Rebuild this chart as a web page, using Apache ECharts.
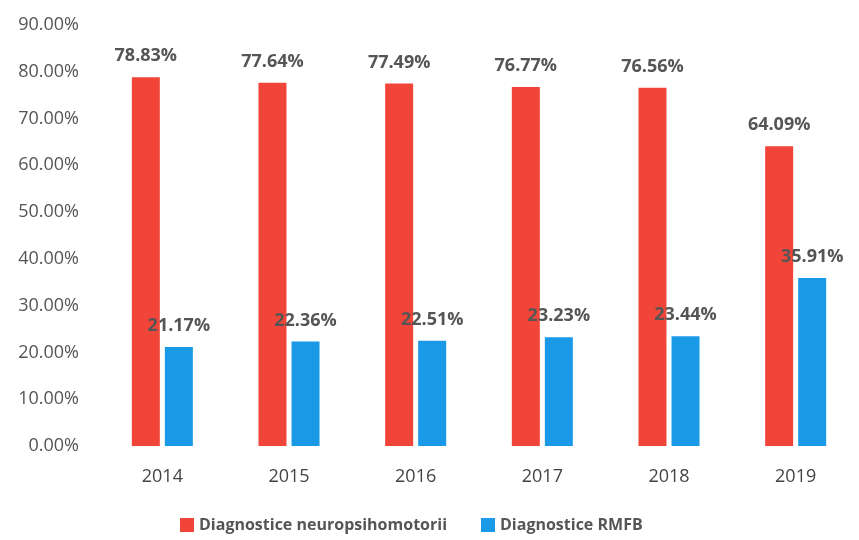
<!DOCTYPE html>
<html><head><meta charset="utf-8">
<script src="https://cdn.jsdelivr.net/npm/echarts@6/dist/echarts.min.js"></script>
<style>html,body{margin:0;padding:0;background:#fff}#c{width:859px;height:540px}</style>
</head><body><div id="c"></div>
<script>
const categories = ['2014','2015','2016','2017','2018','2019'];
const neuroValues = [78.83, 77.64, 77.49, 76.77, 76.56, 64.09];
const rmfbValues = [21.17, 22.36, 22.51, 23.23, 23.44, 35.91];
const seriesNames = ['Diagnostice neuropsihomotorii', 'Diagnostice RMFB'];

const chart = echarts.init(document.getElementById('c'), null, {renderer:'canvas'});
const font = '"Open Sans", "Noto Sans", sans-serif';
const lbl = {
  show: true, position: 'top', distance: 12,
  formatter: p => p.value.toFixed(2) + '%',
  color: '#555', fontWeight: 'bold', fontSize: 18, fontFamily: font
};
chart.setOption({
  animation: false,
  grid: {left: 99, top: 25, width: 772, bottom: 94},
  legend: {
    bottom: 2, left: 175, itemWidth: 14, itemHeight: 14, itemGap: 34,
    icon: 'rect',
    textStyle: {color: '#555', fontWeight: 'bold', fontSize: 16, fontFamily: font}
  },
  xAxis: {
    type: 'category', data: categories,
    axisLine: {show: false}, axisTick: {show: false},
    axisLabel: {color: '#444', fontSize: 18, fontFamily: font, margin: 22}
  },
  yAxis: {
    type: 'value', min: 0, max: 90, interval: 10,
    splitLine: {show: false}, axisLine: {show: false}, axisTick: {show: false},
    axisLabel: {color: '#555', fontSize: 18, fontFamily: font, margin: 20,
      formatter: v => v.toFixed(2) + '%'}
  },
  series: [
    {name: seriesNames[0], type: 'bar', data: neuroValues, barWidth: 28, barGap: '18%',
     itemStyle: {color: '#f2453a'}, label: lbl},
    {name: seriesNames[1], type: 'bar', data: rmfbValues, barWidth: 28,
     itemStyle: {color: '#1a9ae6'}, label: lbl}
  ]
});
</script></body></html>
